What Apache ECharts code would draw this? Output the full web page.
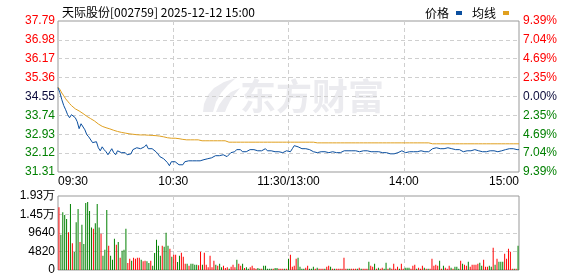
<!DOCTYPE html>
<html>
<head>
<meta charset="utf-8">
<script src="https://cdn.jsdelivr.net/npm/echarts@6/dist/echarts.min.js"></script>
<style>html,body{margin:0;padding:0;background:#fff}#c{width:578px;height:276px}</style>
</head>
<body>
<div id="c"></div>
<script>
const titleText = '天际股份[002759] 2025-12-12 15:00';
const prevClose = 34.55;
const priceLabels = ['31.31','32.12','32.93','33.74','34.55','35.36','36.17','36.98','37.79'];
const pctLabels = ['9.39%','7.04%','4.69%','2.35%','0.00%','2.35%','4.69%','7.04%','9.39%'];
const volLabels = ['0','4820','9640','1.45万','1.93万'];
const xTickLabels = ['09:30','10:30','11:30/13:00','14:00','15:00'];

const price = [
34.93,34.71,34.41,34.16,33.98,33.77,33.64,33.77,33.81,33.64,
33.47,33.17,33.38,33.30,33.12,32.91,32.82,32.74,32.57,32.57,
32.61,32.35,32.22,32.39,32.27,32.18,32.05,32.18,32.31,32.14,
32.05,32.22,32.27,32.14,32.22,32.14,32.05,32.05,32.09,32.27,
32.35,32.35,32.35,32.31,32.35,32.39,32.48,32.31,32.31,32.31,
32.27,32.18,32.09,31.97,31.92,31.88,31.84,31.71,31.58,31.75,
31.75,31.75,31.71,31.62,31.54,31.62,31.75,31.79,31.79,31.79,
31.79,31.75,31.79,31.75,31.79,31.75,31.84,31.88,31.88,31.92,
31.92,31.97,32.01,31.97,32.01,32.01,32.05,32.01,31.97,32.05,
32.14,32.09,32.18,32.27,32.22,32.27,32.18,32.14,32.18,32.18,
32.27,32.22,32.27,32.27,32.22,32.18,32.22,32.27,32.31,32.22,
32.18,32.22,32.18,32.18,32.18,32.18,32.14,32.14,32.18,32.22,
32.18,
32.18,32.31,32.44,32.48,32.39,32.35,32.31,32.27,32.31,
32.31,32.27,32.22,32.18,32.18,32.14,32.18,32.18,32.22,32.18,
32.18,32.14,32.14,32.18,32.18,32.14,32.18,32.14,32.14,32.22,
32.27,32.22,32.18,32.22,32.27,32.22,32.18,32.18,32.18,32.22,
32.27,32.22,32.18,32.18,32.18,32.18,32.18,32.18,32.14,32.14,
32.14,32.14,32.14,32.09,32.09,32.09,32.14,32.14,32.18,32.22,
32.18,32.14,32.18,32.18,32.18,32.18,32.14,32.18,32.18,32.22,
32.22,32.18,32.14,32.18,32.22,32.31,32.35,32.35,32.35,32.31,
32.31,32.31,32.31,32.35,32.35,32.31,32.31,32.27,32.27,32.27,
32.22,32.18,32.18,32.22,32.22,32.22,32.22,32.27,32.27,32.22,
32.18,32.18,32.18,32.18,32.18,32.22,32.18,32.22,32.27,32.18,
32.22,32.22,32.27,32.27,32.27,32.31,32.31,32.31,32.31,32.27,
32.27
];

const avgPrice = [
34.95,34.85,34.70,34.58,34.45,34.35,34.25,34.16,34.08,34.02,
33.97,33.93,33.88,33.82,33.76,33.70,33.65,33.60,33.55,33.50,
33.43,33.37,33.32,33.27,33.24,33.21,33.19,33.16,33.13,33.10,
33.07,33.05,33.03,33.01,32.99,32.98,32.96,32.95,32.94,32.93,
32.92,32.91,32.91,32.90,32.90,32.90,32.89,32.89,32.88,32.88,
32.87,32.87,32.86,32.85,32.84,32.82,32.80,32.78,32.77,32.76,
32.76,32.76,32.75,32.74,32.73,32.71,32.69,32.69,32.69,32.69,
32.69,32.69,32.69,32.69,32.69,32.65,32.65,32.65,32.65,32.65,
32.65,32.65,32.65,32.65,32.65,32.65,32.65,32.65,32.65,32.59,
32.59,32.59,32.59,32.59,32.59,32.59,32.59,32.59,32.59,32.59,
32.59,32.59,32.59,32.59,32.59,32.59,32.59,32.59,32.59,32.59,
32.59,32.59,32.59,32.59,32.59,32.59,32.59,32.59,32.59,32.59,
32.59,
32.59,32.59,32.59,32.59,32.59,32.59,32.59,32.59,32.59,
32.59,32.59,32.59,32.59,32.56,32.56,32.56,32.56,32.56,32.56,
32.56,32.56,32.56,32.56,32.56,32.56,32.56,32.56,32.56,32.56,
32.56,32.56,32.56,32.56,32.56,32.56,32.56,32.56,32.56,32.56,
32.56,32.56,32.56,32.56,32.56,32.56,32.56,32.56,32.56,32.56,
32.56,32.56,32.56,32.56,32.56,32.56,32.56,32.56,32.56,32.56,
32.56,32.56,32.56,32.56,32.56,32.56,32.56,32.56,32.56,32.56,
32.56,32.56,32.56,32.56,32.56,32.52,32.52,32.52,32.52,32.52,
32.52,32.52,32.52,32.52,32.52,32.52,32.52,32.52,32.52,32.52,
32.52,32.52,32.52,32.52,32.52,32.52,32.52,32.52,32.52,32.52,
32.52,32.52,32.52,32.52,32.52,32.52,32.52,32.52,32.52,32.52,
32.52,32.52,32.52,32.52,32.52,32.52,32.52,32.52,32.52,32.52,
32.52
];

const volMorning1 = [
16350,9170,15050,14360,13320,9860,17210,7000,4670,12460,
15920,7270,11760,6750,17470,17730,15400,11070,10730,12200,
17210,11070,9430,3720,5280,15660,6310,3720,2680,8130,
6570,7270,3200,5020,5280,10730,1800,2940,2420,3200,
2940,3200,3200,2680,2250,2420,2250,1820,2420,1120,
4410,7870,6310,3720,6310,6060,9690,6310,5540,3460,
3980
];
const upMorning1 = [
1,0,0,0,0,1,0,1,0,0,
0,1,0,0,0,0,0,0,1,0,
0,0,1,0,0,0,1,0,0,0,
1,0,1,0,0,0,1,1,0,1,
1,1,1,0,1,1,0,0,1,0,
0,0,0,0,1,0,0,0,1,0,
1
];
const volMorning2 = [
3980,2080,3720,4500,3460,1640,1640,1120,1640,1640,
1380,1380,1210,4760,1380,4500,1380,700,3720,700,
2420,1380,1120,1640,700,1120,520,700,350,870,
1380,700,2680,1640,1120,1640,520,700,350,700,
1120,520,350,520,350,350,1120,1120,350,350,
350,350,520,520,350,350,350,300,350,2940
];
const upMorning2 = [
1,0,0,1,1,1,0,1,0,0,
0,0,1,1,0,1,1,1,1,1,
1,0,1,0,0,1,1,1,0,1,
1,1,0,1,1,0,1,0,0,1,
1,1,1,0,0,1,0,0,0,0,
0,1,0,0,1,1,1,0,1,0
];
const volAfternoon = [
3980,870,1120,2940,3200,870,350,350,600,1120,
350,350,870,350,600,350,350,350,350,870,
1120,870,350,350,350,350,350,350,3200,350,
350,350,350,350,350,350,600,350,350,350,
350,2160,1120,870,1640,350,600,350,600,350,
1900,350,600,350,1640,350,870,350,1640,350,
600,600,600,350,1120,1380,350,600,350,1120,
600,350,350,350,2940,1120,1380,1120,2420,350,
1120,600,350,1120,600,350,870,870,350,2420,
1640,1380,1120,2160,870,1380,1380,1380,1640,1900,
1120,2680,870,870,1120,870,5800,1380,2940,2160,
2160,2160,4240,2940,5540,4760,350,350,350,6310
];
const upAfternoon = [
1,1,1,1,0,0,0,0,1,1,
0,0,0,1,0,1,1,1,0,1,
1,0,1,0,1,1,1,1,1,1,
0,0,1,1,1,0,1,0,1,1,
1,0,1,1,0,1,0,1,1,0,
0,1,0,1,1,1,1,0,1,1,
0,0,0,1,1,1,0,1,1,1,
0,1,0,1,1,1,1,1,0,1,
0,1,1,1,0,1,0,0,0,1,
0,1,1,0,1,1,1,1,1,0,
0,1,1,1,0,0,1,0,1,0,
0,0,1,1,1,1,1,0,1,0
];

const volume = volMorning1.concat(volMorning2, volAfternoon);
const volUp = upMorning1.concat(upMorning2, upAfternoon);

// minute categories 09:30..11:30/13:00..15:00 (241 slots)
const times = [];
for (let i = 0; i < 241; i++) {
  let m = i <= 120 ? 570 + i : 780 + (i - 120);
  const hh = String(Math.floor(m / 60)).padStart(2, '0');
  const mm = String(m % 60).padStart(2, '0');
  times.push(i === 120 ? '11:30/13:00' : hh + ':' + mm);
}

const RED = '#ff0000', GREEN = '#008000', DARK = '#0a0a3a';
const lblColor = (i) => i < 4 ? GREEN : (i === 4 ? DARK : RED);
const FONT = 'Liberation Sans';
const dash = {color: '#cfcfcf', type: [4, 3], width: 1};
const WM = '#ebebef';

const chart = echarts.init(document.getElementById('c'), null, {renderer: 'canvas'});
chart.setOption({
  animation: false,
  backgroundColor: '#fff',
  textStyle: {fontFamily: FONT},
  title: {
    text: titleText, left: 57, top: 1,
    textStyle: {fontSize: 12, fontWeight: 'normal', color: '#000', fontFamily: 'Noto Sans CJK SC'}
  },
  legend: {
    right: 64, top: 2, itemWidth: 6, itemHeight: 4, itemGap: 10, align: 'right',
    icon: 'rect',
    textStyle: {fontSize: 12, color: '#000', fontFamily: 'Noto Sans CJK SC', padding: [0, 2, 0, 0]},
    data: ['价格', '均线']
  },
  graphic: [
    {
      type: 'polygon', z: 0, silent: true,
      shape: {points: [[203,112],[204,104],[208,95],[214,88],[224,82],[236,78],[228,85],[221,93],[216,102],[213,112]]},
      style: {fill: WM}
    },
    {
      type: 'polygon', z: 0, silent: true,
      shape: {points: [[216,112],[219,105],[224,98],[231,92],[240,88],[235,94],[230,101],[227,107],[225,112]]},
      style: {fill: WM}
    },
    {
      type: 'text', left: 240, top: 78, z: 0, silent: true,
      style: {text: '东方财富', fontSize: 36, fontWeight: 'bold', fontFamily: 'Noto Sans CJK SC', fill: WM}
    }
  ],
  grid: [
    {left: 58, right: 59, top: 21, height: 151, show: true, borderColor: '#999', borderWidth: 1},
    {left: 58, right: 59, top: 196, height: 74, show: true, borderColor: '#999', borderWidth: 1}
  ],
  xAxis: [
    {
      type: 'category', gridIndex: 0, data: times, boundaryGap: false,
      axisLine: {show: false}, axisTick: {show: false},
      axisLabel: {
        interval: 59, margin: 4, fontSize: 12, color: '#000', fontFamily: FONT,
        alignMinLabel: 'left', alignMaxLabel: 'right',
        formatter: (v, i) => xTickLabels[Math.round(i / 60)]
      },
      splitLine: {show: true, interval: 59, showMinLine: false, showMaxLine: false, lineStyle: dash}
    },
    {type: 'category', gridIndex: 1, data: times, boundaryGap: true, show: false},
    {
      type: 'category', gridIndex: 1, data: times, boundaryGap: false,
      axisLine: {show: false}, axisTick: {show: false}, axisLabel: {show: false},
      splitLine: {show: true, interval: 59, showMinLine: false, showMaxLine: false, lineStyle: dash}
    }
  ],
  yAxis: [
    {
      type: 'value', gridIndex: 0, position: 'left', min: 31.31, max: 37.79, interval: 0.81,
      axisLine: {show: false}, axisTick: {show: false},
      axisLabel: {margin: 3, fontSize: 12, fontFamily: FONT, formatter: (v, i) => priceLabels[i], color: (v, i) => lblColor(i)},
      splitLine: {show: true, showMinLine: false, showMaxLine: false, lineStyle: dash}
    },
    {
      type: 'value', gridIndex: 0, position: 'right', min: 31.31, max: 37.79, interval: 0.81,
      axisLine: {show: false}, axisTick: {show: false},
      axisLabel: {margin: 4, fontSize: 12, fontFamily: FONT, formatter: (v, i) => pctLabels[i], color: (v, i) => lblColor(i)},
      splitLine: {show: false}
    },
    {
      type: 'value', gridIndex: 1, min: 0, max: 19280, interval: 4820,
      axisLine: {show: false}, axisTick: {show: false},
      axisLabel: {margin: 3, fontSize: 12, fontFamily: FONT, color: '#000', formatter: (v, i) => volLabels[i]},
      splitLine: {show: true, showMinLine: false, showMaxLine: false, lineStyle: dash}
    }
  ],
  series: [
    {
      name: '价格', type: 'line', xAxisIndex: 0, yAxisIndex: 0, data: price,
      showSymbol: false, symbol: 'none', color: '#0b4f9f', lineStyle: {width: 1, color: '#0b4f9f'}, z: 3
    },
    {
      name: '均线', type: 'line', xAxisIndex: 0, yAxisIndex: 0, data: avgPrice,
      showSymbol: false, symbol: 'none', color: '#e0a020', lineStyle: {width: 1, color: '#e0a020'}, z: 2
    },
    {
      name: '成交量', type: 'bar', xAxisIndex: 1, yAxisIndex: 2, barWidth: 1,
      data: volume.map((v, i) => ({value: v, itemStyle: {color: volUp[i] ? RED : GREEN}}))
    }
  ]
});
</script>
</body>
</html>
